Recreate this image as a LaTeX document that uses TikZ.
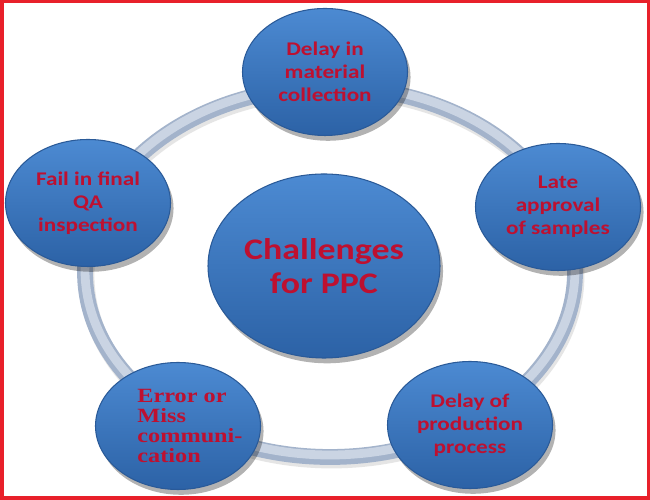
\documentclass[tikz,border=0pt]{standalone}
\usepackage{fontspec}
\usepackage{xcolor}
\usetikzlibrary{shapes.geometric,shadows}
\newfontfamily\ballfont{Carlito}[FakeStretch=1.2]
\newfontfamily\errfont{Liberation Serif}[FakeStretch=1.2]
\definecolor{balltop}{HTML}{4C8AD2}
\definecolor{ballmid}{HTML}{3B76BD}
\definecolor{ballbot}{HTML}{2C62A6}
\definecolor{ballrim}{HTML}{2A5A98}
\definecolor{ringdark}{HTML}{A3B3CB}
\definecolor{ringlight}{HTML}{CAD4E3}
\definecolor{txtred}{HTML}{BE1030}
\definecolor{frame}{HTML}{E8202A}
\tikzset{
  ball/.style={ellipse, minimum width=3.3cm, minimum height=2.54cm, inner sep=0pt,
    top color=balltop, middle color=ballmid, bottom color=ballbot, draw=ballrim, line width=0.6pt,
    drop shadow={shadow xshift=0.4ex, shadow yshift=-0.7ex, opacity=0.3, fill=black},
    text=txtred, align=center, font=\ballfont\bfseries\fontsize{11}{13}\selectfont},
  hub/.style={ball, minimum width=4.64cm, minimum height=3.68cm,
    font=\ballfont\bfseries\fontsize{17}{19}\selectfont},
  errtxt/.style={text=txtred, align=left, font=\errfont\bfseries\fontsize{11.5}{11.5}\selectfont}
}
\begin{document}
\begin{tikzpicture}
    \useasboundingbox (0,0) rectangle (13,10);
    \fill[white] (0,0) rectangle (13,10);
    \draw[frame, line width=0.07cm] (0.035,0.035) rectangle (12.965,9.965);
    \draw[black!20, line width=9pt, opacity=0.5] (6.63,4.49) ellipse (4.9 and 3.7);
    \draw[ringdark, line width=9pt] (6.6,4.56) ellipse (4.9 and 3.7);
    \draw[ringlight, line width=5pt] (6.6,4.6) ellipse (4.9 and 3.7);
    \node[hub] (ppc) at (6.48,4.68) {Challenges\\for PPC};
    \node[ball] (delay) at (6.5,8.56) {Delay in\\material\\collection};
    \node[ball] (approval) at (11.16,5.86) {Late\\approval\\of samples};
    \node[ball] (process) at (9.4,1.5) {Delay of\\production\\process};
    \node[ball, label={[errtxt, xshift=0.24cm]center:Error or\\Miss\\communi-\\cation}] (error) at (3.56,1.48) {};
    \node[ball] (qa) at (1.76,5.94) {Fail in final\\QA\\inspection};
\end{tikzpicture}
\end{document}
